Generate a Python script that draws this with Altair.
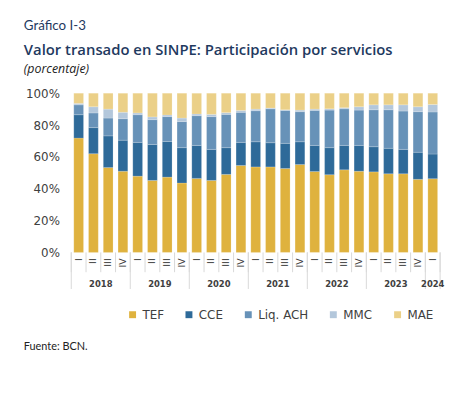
import altair as alt
import pandas as pd

quarters = ["I", "II", "III", "IV"] * 6 + ["I"]
years = ["2018", "2019", "2020", "2021", "2022", "2023", "2024"]
year_counts = [4, 4, 4, 4, 4, 4, 1]
series = ["TEF", "CCE", "Liq. ACH", "MMC", "MAE"]
colors = ["#DFB23E", "#2E6A99", "#6792B8", "#B3C7DB", "#EBD088"]

tef = [71.8, 62.0, 53.3, 51.0, 47.9, 45.2, 47.3, 43.6, 46.5, 45.2, 49.0, 54.6, 53.7,
       53.7, 52.7, 55.2, 50.8, 48.8, 51.9, 51.0, 50.6, 49.4, 49.4, 45.9, 46.3]
cce = [14.7, 16.4, 19.9, 19.5, 21.2, 22.6, 22.4, 22.2, 20.7, 19.5, 16.8, 14.5, 15.8,
       15.2, 15.8, 14.3, 16.4, 17.0, 15.3, 16.2, 15.8, 16.0, 15.3, 17.0, 15.5]
liq = [6.2, 9.2, 11.2, 13.5, 17.4, 15.6, 15.6, 16.4, 18.7, 20.6, 20.9, 18.9, 19.5,
       21.3, 20.7, 18.9, 22.0, 23.6, 23.0, 22.2, 23.2, 24.2, 24.1, 25.5, 26.4]
mmc = [0.9, 3.9, 5.6, 4.0, 1.1, 1.7, 1.0, 2.2, 1.0, 1.4, 1.1, 1.2, 1.0,
       0.5, 0.4, 1.0, 0.8, 0.8, 0.7, 2.1, 3.1, 3.1, 3.9, 3.1, 4.7]
mae = [6.4, 8.5, 10.0, 12.0, 12.4, 14.9, 13.7, 15.6, 13.1, 13.3, 12.2, 10.8, 10.0,
       9.3, 10.4, 10.6, 10.0, 9.8, 9.1, 8.5, 7.3, 7.3, 7.3, 8.5, 7.1]

values = [tef, cce, liq, mmc, mae]

rows = []
for i in range(len(quarters)):
    base = 0.0
    for s, vals in zip(series, values):
        rows.append({"x0": i + 0.17, "x1": i + 0.83, "y0": base, "y1": base + vals[i], "serie": s})
        base += vals[i]
bars_df = pd.DataFrame(rows)

q_df = pd.DataFrame({"xc": [i + 0.5 for i in range(len(quarters))], "q": quarters})
qsep_df = pd.DataFrame({"xs": list(range(len(quarters) + 1))})
ybounds = [0]
for c in year_counts:
    ybounds.append(ybounds[-1] + c)
ysep_df = pd.DataFrame({"xs": ybounds})
ylab_df = pd.DataFrame({"xc": [(ybounds[k] + ybounds[k + 1]) / 2 for k in range(len(years))], "yr": years})

xscale = alt.Scale(domain=[0, 25], nice=False, zero=False)
TXT = "#404040"
NAVY = "#1F3A5F"

bars = alt.Chart(bars_df).mark_bar(stroke="white", strokeWidth=0.3, strokeOpacity=0.6).encode(
    x=alt.X("x0:Q", scale=xscale, axis=None),
    x2="x1",
    y=alt.Y("y0:Q", scale=alt.Scale(domain=[0, 100], nice=False),
            axis=alt.Axis(values=[0, 20, 40, 60, 80, 100], labelExpr="datum.value + '%'",
                          grid=False, domain=False, ticks=False, labelPadding=12,
                          labelFont="DejaVu Sans", labelFontSize=12, labelColor=TXT, title=None)),
    y2="y1",
    color=alt.Color("serie:N", scale=alt.Scale(domain=series, range=colors),
                    legend=alt.Legend(orient="none", legendX=56, legendY=218, direction="horizontal",
                                      title=None, symbolType="square", symbolSize=49,
                                      symbolStrokeWidth=0, labelFont="DejaVu Sans", labelFontSize=12,
                                      labelColor=TXT, columnPadding=19, labelOffset=4)),
)

qsep = alt.Chart(qsep_df).mark_rule(color="#D9D9D9", strokeWidth=1).encode(
    x=alt.X("xs:Q", scale=xscale), y=alt.value(161), y2=alt.value(181))
ysep = alt.Chart(ysep_df).mark_rule(color="#D9D9D9", strokeWidth=1).encode(
    x=alt.X("xs:Q", scale=xscale), y=alt.value(161), y2=alt.value(198))

qlab = alt.Chart(q_df).mark_text(angle=270, align="right", baseline="middle",
                                 font="DejaVu Sans", fontSize=9.5, color=TXT).encode(
    x=alt.X("xc:Q", scale=xscale), y=alt.value(167), text="q:N")

ylab = alt.Chart(ylab_df).mark_text(align="center", baseline="middle", font="DejaVu Sans",
                                    fontSize=8.5, fontWeight="bold", color=TXT).encode(
    x=alt.X("xc:Q", scale=xscale), y=alt.value(192.5), text="yr:N")


def label(txt, x, y, **kw):
    return alt.Chart(pd.DataFrame({"t": [txt]})).mark_text(align="left", baseline="alphabetic", **kw).encode(
        x=alt.value(x), y=alt.value(y), text="t:N")


h1 = label("Gráfico I-3", -48, -64, font="Lato", fontSize=13.5, color=NAVY)
h2 = label("Valor transado en SINPE: Participación por servicios", -48, -39, font="Open Sans",
           fontSize=15, fontWeight=600, color=NAVY)
h3 = label("(porcentaje)", -48, -20, font="Open Sans", fontSize=12.5, fontStyle="italic", color="#222222")
src = label("Fuente: BCN.", -48, 260, font="Lato", fontSize=11, color="#222222")

chart = alt.layer(bars, qsep, ysep, qlab, ylab, h1, h2, h3, src).properties(
    width=373, height=161,
    autosize=alt.AutoSizeParams(type="none"),
    padding={"left": 64, "top": 84, "right": 10, "bottom": 140},
    background="white",
).configure_view(stroke=None)

chart.save("out.html", embed_options={"renderer": "svg", "actions": False})
